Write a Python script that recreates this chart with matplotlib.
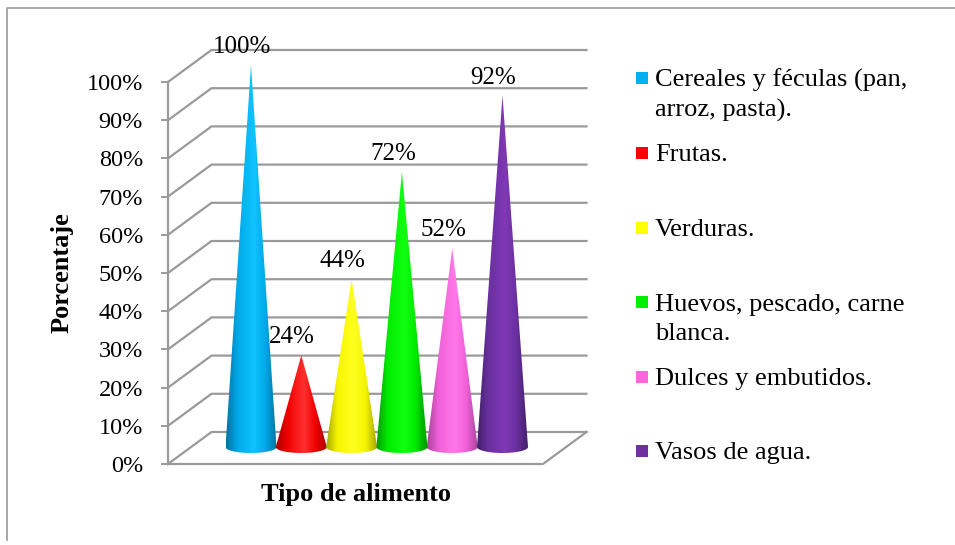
import numpy as np
import matplotlib
matplotlib.use("Agg")
import matplotlib.pyplot as plt
from matplotlib.colors import LinearSegmentedColormap
from matplotlib.patches import Polygon, Rectangle

# values
categorias = ["Cereales y féculas (pan,\narroz, pasta).", "Frutas.", "Verduras.",
              "Huevos, pescado, carne\nblanca.", "Dulces y embutidos.", "Vasos de agua."]
valores = [100, 24, 44, 72, 52, 92]
ticks = list(range(0, 101, 10))

# (dark edge, main, highlight)
colores = [("#0474a3", "#00a8e6", "#10c4ff"),
           ("#a80000", "#f00000", "#ff3030"),
           ("#a8a800", "#f5f500", "#ffff20"),
           ("#009a00", "#00ea00", "#10ff10"),
           ("#a8459c", "#f060d8", "#ff78e8"),
           ("#43206a", "#6a30a0", "#8038b4")]
legend_colores = ["#00b0f0", "#ff0000", "#ffff00", "#00ee00", "#ff66dd", "#7030a0"]
legend_y = [78, 153, 228, 302, 377, 451]

W, H = 955, 545
GRIS = "#9a9a9a"
plt.rcParams["font.family"] = ["Liberation Serif", "DejaVu Serif"]

fig = plt.figure(figsize=(W / 100, H / 100), dpi=100)
# front plane of the fake 3d box, in pixels
x0, x1, y0, y100 = 168, 543, 464, 82
ax = fig.add_axes([x0 / W, 1 - y0 / H, (x1 - x0) / W, (y0 - y100) / H])
px_x = 50.3
px_y = (y0 - y100) / 100
xlim = (-(251 - x0) / px_x, (x1 - 251) / px_x)
ax.set_xlim(xlim)
ax.set_ylim(0, 100)
ax.patch.set_alpha(0)

# depth of the box in data units
dx = 43.5 / px_x
dy = 32 / px_y

for t in ticks:
    ax.plot([xlim[0], xlim[0] + dx, xlim[1] + dx], [t, t + dy, t + dy], color=GRIS, lw=1.6,
            clip_on=False, zorder=1, solid_joinstyle="miter")
ax.plot([xlim[0], xlim[1], xlim[1] + dx], [0, 0, dy], color=GRIS, lw=1.6, clip_on=False, zorder=1)

for s in ["top", "right", "bottom"]:
    ax.spines[s].set_visible(False)
ax.spines["left"].set_color(GRIS)
ax.spines["left"].set_linewidth(1.6)
ax.set_xticks([])
ax.set_yticks(ticks)
ax.set_yticklabels([f"{t}%" for t in ticks], fontsize=17.5)
ax.tick_params(axis="y", length=5, width=1.4, color=GRIS, pad=13)

# cones, the base sits above the floor so the tip is base + value
base = 4.45      # base centre above the floor
a = 25.5 / px_x  # half width
b = 6 / px_y     # ellipse half height
for i, (v, c) in enumerate(zip(valores, colores)):
    cmap = LinearSegmentedColormap.from_list("c", [(0, c[0]), (0.22, c[1]), (0.55, c[2]), (0.78, c[1]), (1, c[0])])
    t = np.linspace(np.pi, 2 * np.pi, 40)
    tip = base + v
    pts = [(i, tip)] + list(zip(i + a * np.cos(t), base + b * np.sin(t)))
    im = ax.imshow(np.linspace(0, 1, 100).reshape(1, -1), cmap=cmap, aspect="auto",
                   extent=(i - a, i + a, 0, 110), zorder=3 + i)
    im.set_clip_box(fig.bbox)  # tip of the tallest cone goes above the axes
    im.set_clip_path(Polygon(pts, closed=True, transform=ax.transData))
    ax.annotate(f"{v}%", (i, tip), xytext=(-9 * 0.72, 18 * 0.72), textcoords="offset points",
                ha="center", va="center", fontsize=18, zorder=20, annotation_clip=False)
ax.set_xlim(xlim)
ax.set_ylim(0, 100)

fig.text(62 / W, 1 - 273 / H, "Porcentaje", rotation=90, ha="center", va="center",
         fontsize=19, fontweight="bold")
fig.text(356 / W, 1 - 495 / H, "Tipo de alimento", ha="center", va="center",
         fontsize=19, fontweight="bold")

# legend
for nombre, c, y in zip(categorias, legend_colores, legend_y):
    fig.add_artist(Rectangle((636 / W, 1 - (y + 6) / H), 12 / W, 12 / H, color=c,
                             transform=fig.transFigure, lw=0))
    for j, txt in enumerate(nombre.split("\n")):
        fig.text(655 / W, 1 - (y + 8.5 + j * 30) / H, txt, ha="left", va="baseline", fontsize=19)

# outer frame, only top and left show
fig.add_artist(plt.Line2D([6.5 / W, 6.5 / W, 1], [0.01, 1 - 7.5 / H, 1 - 7.5 / H], color=GRIS, lw=1.2,
                          transform=fig.transFigure))

fig.savefig("out.png", dpi=100)
